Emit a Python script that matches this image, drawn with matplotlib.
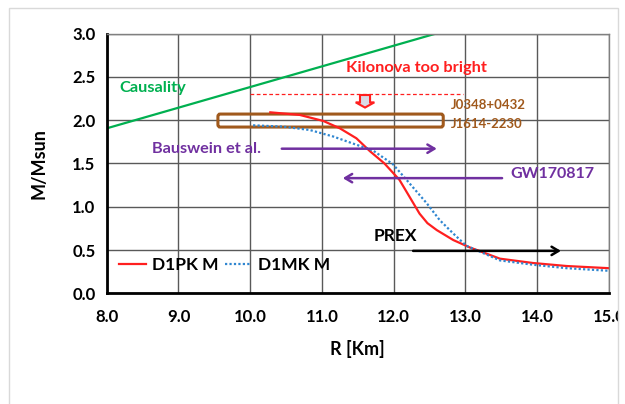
import matplotlib
matplotlib.use("Agg")
import matplotlib.pyplot as plt
import matplotlib.patches as mpatches
from matplotlib.transforms import Bbox

plt.rcParams['font.family'] = ['Lato', 'DejaVu Sans']

# mass-radius curves
pk_R = [10.28, 10.69, 11.02, 11.25, 11.48, 11.67, 11.87, 12.08, 12.22, 12.36, 12.47, 12.60, 12.83, 13.06, 13.48, 13.94, 14.41, 15.0]
pk_M = [2.09, 2.06, 1.99, 1.905, 1.79, 1.64, 1.50, 1.31, 1.115, 0.92, 0.81, 0.73, 0.615, 0.53, 0.40, 0.35, 0.315, 0.29]
mk_R = [10.04, 10.46, 10.83, 11.16, 11.43, 11.71, 11.99, 12.22, 12.46, 12.64, 12.83, 13.01, 13.48, 13.94, 14.41, 15.0]
mk_M = [1.94, 1.925, 1.886, 1.81, 1.73, 1.65, 1.49, 1.27, 1.04, 0.846, 0.69, 0.55, 0.38, 0.33, 0.29, 0.26]

causal_R = [8.0, 12.59]
causal_M = [1.905, 3.0]

kilonova_R = [10.0, 12.97]
kilonova_M = 2.30

xticks = [8, 9, 10, 11, 12, 13, 14, 15]
yticks = [0.0, 0.5, 1.0, 1.5, 2.0, 2.5, 3.0]

fig = plt.figure(figsize=(6.25, 4.04), dpi=100)
ax = fig.add_axes([0.1707, 0.274, 0.8037, 0.643])

# outer chart border
fig.patches.append(mpatches.Rectangle((9 / 625, -0.05), 609 / 625, 1.05 - 8 / 404,
                                      transform=fig.transFigure, fill=False,
                                      edgecolor='#D9D9D9', lw=1))

ax.set_xlim(8, 15)
ax.set_ylim(0, 3)
ax.set_xticks(xticks)
ax.set_yticks(yticks)
ax.set_xticklabels([f"{v:.1f}" for v in xticks])
ax.set_yticklabels([f"{v:.1f}" for v in yticks])
ax.grid(True, color='#595959', lw=1)
ax.set_axisbelow(True)
for s in ['top', 'right']:
    ax.spines[s].set_color('#808080')
    ax.spines[s].set_linewidth(1)
for s in ['left', 'bottom']:
    ax.spines[s].set_color('black')
    ax.spines[s].set_linewidth(2)
ax.tick_params(length=0, labelsize=12)
ax.tick_params(axis='x', pad=11)
ax.tick_params(axis='y', pad=8)
for lab in ax.get_xticklabels() + ax.get_yticklabels():
    lab.set_fontweight('bold')
ax.set_xlabel('R [Km]', fontsize=13, fontweight='bold', labelpad=11)
ax.set_ylabel('M/Msun', fontsize=13, fontweight='bold', labelpad=18)

ax.plot(causal_R, causal_M, color='#00B050', lw=1.6)
ax.plot(pk_R, pk_M, color='#FF1F1F', lw=1.6, label='D1PK M')
ax.plot(mk_R, mk_M, color='#2F86D0', lw=1.6, ls=(0, (1, 1)), label='D1MK M')

ax.plot(kilonova_R, [kilonova_M, kilonova_M], color='#FF1F1F', lw=0.9, ls=(0, (3, 2)))

ax.add_patch(mpatches.FancyBboxPatch((9.55, 1.92), 3.14, 0.15,
                                     boxstyle='round,pad=0,rounding_size=0.03',
                                     fill=False, edgecolor='#A0591C', lw=2.2))
ax.add_patch(mpatches.FancyArrow(11.6, 2.29, 0, -0.085, width=0.14, head_width=0.26,
                                 head_length=0.06, length_includes_head=False,
                                 facecolor='#DADAE6', edgecolor='#FF1F1F', lw=1.5))

ax.text(8.17, 2.37, 'Causality', color='#00B050', fontsize=11.8, fontweight='bold', va='center')
ax.text(12.32, 2.60, 'Kilonova too bright', color='#FF1F1F', fontsize=11.8, fontweight='bold',
        ha='center', va='center')
ax.text(12.80, 2.18, 'J0348+0432', color='#A0591C', fontsize=9.5, fontweight='bold', va='center')
ax.text(12.80, 1.95, 'J1614-2230', color='#A0591C', fontsize=9.5, fontweight='bold', va='center')
ax.text(8.63, 1.67, 'Bauswein et al.', color='#7030A0', fontsize=11.7, fontweight='bold', va='center')
ax.text(13.63, 1.38, 'GW170817', color='#7030A0', fontsize=11.5, fontweight='bold', va='center')
ax.text(11.72, 0.66, 'PREX', color='black', fontsize=12.5, fontweight='bold', va='center')

arrow_kw = dict(arrowstyle='->,head_length=0.5,head_width=0.3', lw=1.8, shrinkA=0, shrinkB=0)
ax.annotate('', xy=(12.6, 1.67), xytext=(10.44, 1.67),
            arrowprops=dict(color='#7030A0', **arrow_kw))
ax.annotate('', xy=(11.29, 1.33), xytext=(13.51, 1.33),
            arrowprops=dict(color='#7030A0', **arrow_kw))
ax.annotate('', xy=(14.33, 0.49), xytext=(12.27, 0.49),
            arrowprops=dict(color='black', **arrow_kw))

ax.legend(loc='center left', bbox_to_anchor=(0.0245, 0.11), ncol=2, frameon=False,
          borderpad=0, borderaxespad=0,
          handlelength=1.55, handletextpad=0.35, columnspacing=0.35,
          prop={'weight': 'bold', 'size': 12.5})

# clip tick labels at the chart border, like the original
clip = Bbox.from_extents(0, 0, 618, 404)
for lab in ax.get_xticklabels():
    lab.set_clip_box(clip)
    lab.set_clip_on(True)

fig.savefig('out.png', dpi=100)
